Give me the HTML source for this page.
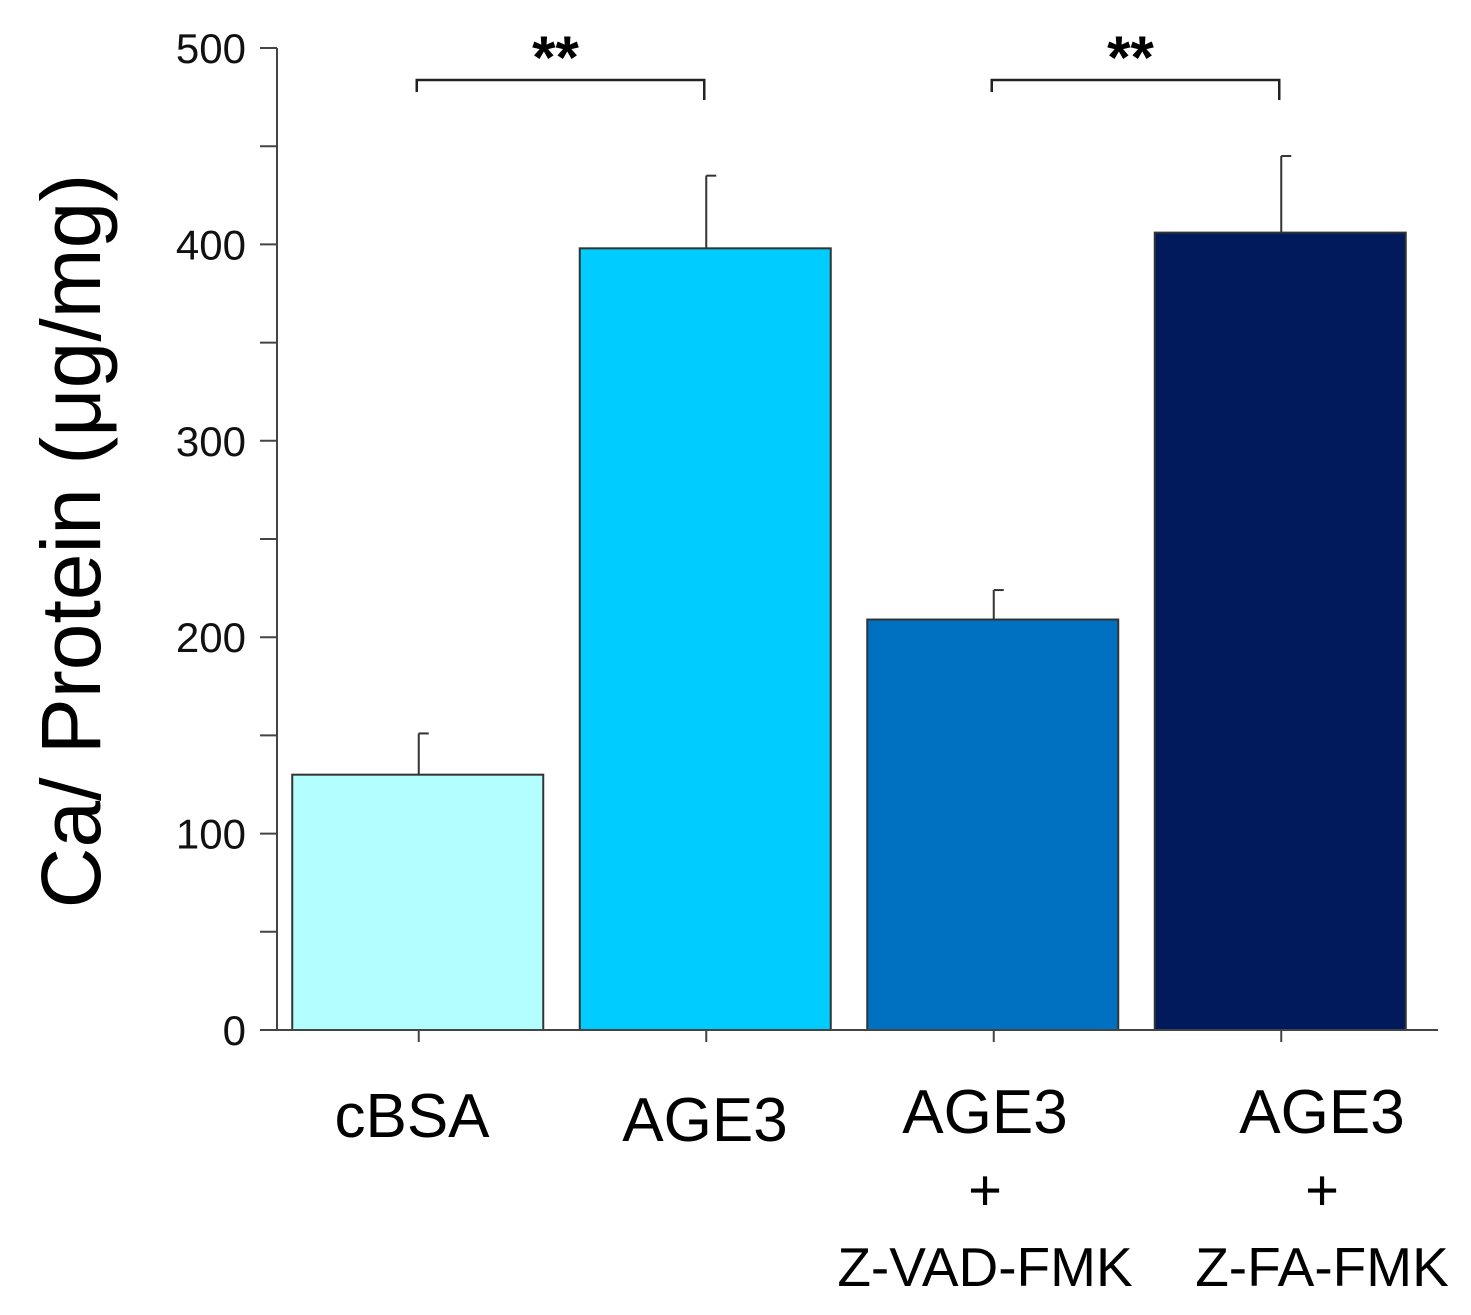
<!DOCTYPE html>
<html><head><meta charset="utf-8"><style>
body{margin:0;background:#fff;}
svg{display:block;font-family:"Liberation Sans",sans-serif;}
</style></head><body>
<svg id="chart" width="1471" height="1315" viewBox="0 0 1471 1315" xmlns="http://www.w3.org/2000/svg"></svg>
<script>
const categories = ["cBSA","AGE3","AGE3 + Z-VAD-FMK","AGE3 + Z-FA-FMK"];
const values = [130, 398, 209, 406];
const errors = [21, 37, 15, 39];
const yTicks = [0,100,200,300,400,500];
const colors = ["#b3ffff","#00ccff","#0070c0","#001a5c"];

const NS="http://www.w3.org/2000/svg";
const svg=document.getElementById('chart');
function el(tag,attrs,parent){const e=document.createElementNS(NS,tag);for(const k in attrs)e.setAttribute(k,attrs[k]);(parent||svg).appendChild(e);return e;}
const y0=1030, yTop=48, vmax=500;
const y=v=>y0-(v/vmax)*(y0-yTop);
const axisX=277;
const slotStart=275, slotW=287.5;
const cx=i=>slotStart+slotW*(i+0.5);
const barW=251;

let a=el('line',{x1:axisX,y1:yTop,x2:axisX,y2:y0,stroke:'#444','stroke-width':2});

for(let v=0;v<=vmax;v+=50){
  const t=el('line',{x1:260,y1:y(v),x2:axisX,y2:y(v),stroke:'#444','stroke-width':2});
  
}
yTicks.forEach(v=>{
  const t=el('text',{x:246,y:y(v)+15,'text-anchor':'end','font-size':42,fill:'#111'});
  t.textContent=v;
  
});
const yt=el('text',{x:0,y:0,transform:'translate(100,541) rotate(-90)','text-anchor':'middle','font-size':84,fill:'#000'});
yt.textContent='Ca/ Protein (μg/mg)';


values.forEach((v,i)=>{
  const x=cx(i)-barW/2-1;
  const b=el('rect',{x:x,y:y(v),width:barW,height:y0-y(v),fill:colors[i],stroke:'#333','stroke-width':2});
  
  const e=el('line',{x1:cx(i),y1:y(v),x2:cx(i),y2:y(v+errors[i]),stroke:'#333','stroke-width':2});
  
  const ec=el('line',{x1:cx(i),y1:y(v+errors[i]),x2:cx(i)+10,y2:y(v+errors[i]),stroke:'#333','stroke-width':2});
  
});

const xa=el('line',{x1:260,y1:y0,x2:1438,y2:y0,stroke:'#444','stroke-width':2});

categories.forEach((c,i)=>{
  const t=el('line',{x1:cx(i),y1:y0,x2:cx(i),y2:y0+12,stroke:'#444','stroke-width':2});
  
});
const labelX=[412,705,985,1322];
categories.forEach((c,i)=>{
  const parts=c.split(' + ');
  const g=el('g',{});
  
  const t=el('text',{x:labelX[i],y:i==1?1141:(i==0?1137:1133),'text-anchor':'middle','font-size':62,fill:'#000'},g);
  t.textContent=parts[0];
  if(parts[1]){
    const p=el('text',{x:labelX[i],y:1210,'text-anchor':'middle','font-size':58,fill:'#000'},g);p.textContent='+';
    const s=el('text',{x:labelX[i],y:1286,'text-anchor':'middle','font-size':55,fill:'#000'},g);s.textContent=parts[1];
  }
});

[[0,1],[2,3]].forEach(([a1,b1],k)=>{
  const x1=cx(a1)-2,x2=cx(b1)-2,by=80;
  const p=el('path',{d:`M${x1},${by+12} L${x1},${by} L${x2},${by} L${x2},${by+20}`,fill:'none',stroke:'#222','stroke-width':2.5});
  
  const s=el('text',{x:(x1+x2)/2-5,y:78,'text-anchor':'middle','font-size':60,'font-weight':'bold',fill:'#000'});
  s.textContent='**';
  
});
</script>
</body></html>
